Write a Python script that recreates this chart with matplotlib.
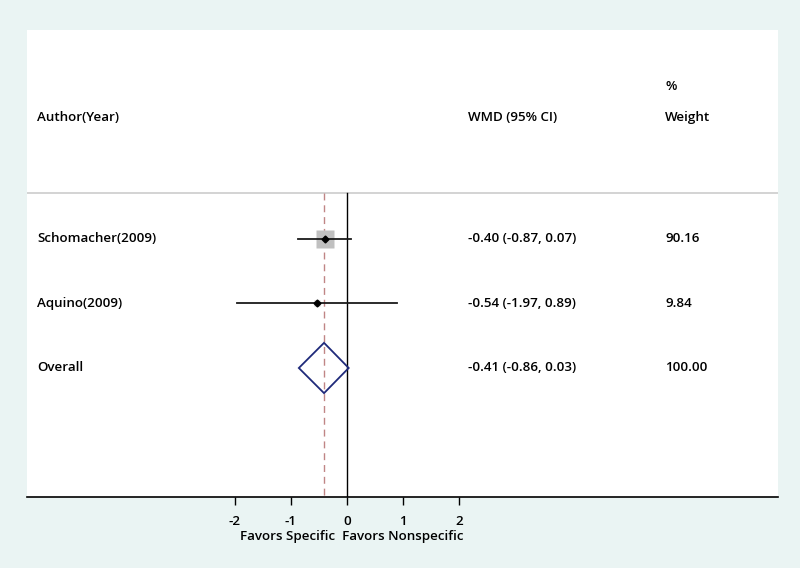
import matplotlib
matplotlib.use("Agg")
import matplotlib.pyplot as plt
import numpy as np

studies = ["Schomacher(2009)", "Aquino(2009)"]
est = [-0.40, -0.54]
lo = [-0.87, -1.97]
hi = [0.07, 0.89]
weights = [90.16, 9.84]
ci_text = ["-0.40 (-0.87, 0.07)", "-0.54 (-1.97, 0.89)"]
weight_text = ["90.16", "9.84"]
overall_est = -0.41
overall_lo = -0.86
overall_hi = 0.03
overall_ci_text = "-0.41 (-0.86, 0.03)"
overall_weight_text = "100.00"
xticks = [-2, -1, 0, 1, 2]

plt.rcParams['font.family'] = ['Open Sans', 'DejaVu Sans']
plt.rcParams['font.weight'] = 'semibold'

fig = plt.figure(figsize=(8, 5.68), dpi=100)
fig.patch.set_facecolor('#eaf4f3')
W, H = 800, 568
ax = fig.add_axes([27 / W, (H - 497) / H, (778 - 27) / W, (497 - 30) / H])
ax.set_facecolor('white')
ax.set_xlim(-5.714, 7.696)
ax.set_ylim(4.0, -3.24)
for s in ['top', 'left', 'right']:
    ax.spines[s].set_visible(False)
ax.spines['bottom'].set_linewidth(1.2)
ax.set_yticks([])
ax.set_xticks(xticks)
fs = 9.6
ax.set_xticklabels([str(t) for t in xticks], fontsize=fs, fontweight='semibold')
ax.tick_params(axis='x', length=6, width=1, direction='out', pad=7)

sep_y = -0.713
ax.axhline(sep_y, color='#cccccc', lw=1.2)
ax.plot([0, 0], [sep_y, 4.0], color='black', lw=1.0)
ax.plot([overall_est, overall_est], [sep_y, 4.0], color='#c08585', lw=1.0,
        ls=(0, (5, 3.5)))

rows = np.arange(len(studies))
for i, r in enumerate(rows):
    ax.plot(est[i], r, marker='s', ms=1.42 * np.sqrt(weights[i]),
            color='#c0c0c0', mec='none', zorder=2)
    ax.plot([lo[i], hi[i]], [r, r], color='#1a1a1a', lw=1.3, zorder=3)
    ax.plot(est[i], r, marker='D', ms=3.5, color='black', zorder=4)
    ax.text(-5.535, r, studies[i], fontsize=fs, va='center', ha='left')
    ax.text(2.16, r, ci_text[i], fontsize=fs, va='center', ha='left')
    ax.text(5.68, r, weight_text[i], fontsize=fs, va='center', ha='left')

ro = len(studies)
dh = 0.39
ax.fill([overall_lo, overall_est, overall_hi, overall_est, overall_lo],
        [ro, ro - dh, ro, ro + dh, ro], facecolor='none',
        edgecolor='#1f2a7a', lw=1.3, zorder=3)
ax.text(-5.535, ro, "Overall", fontsize=fs, va='center', ha='left')
ax.text(2.16, ro, overall_ci_text, fontsize=fs, va='center', ha='left')
ax.text(5.68, ro, overall_weight_text, fontsize=fs, va='center', ha='left')

ax.text(-5.535, -1.89, "Author(Year)", fontsize=fs, va='center', ha='left')
ax.text(2.16, -1.89, "WMD (95% CI)", fontsize=fs, va='center', ha='left')
ax.text(5.68, -1.89, "Weight", fontsize=fs, va='center', ha='left')
ax.text(5.68, -2.36, "%", fontsize=fs, va='center', ha='left')

ax.set_xlabel("Favors Specific  Favors Nonspecific", fontsize=fs,
              fontweight='semibold')
ax.xaxis.set_label_coords((352 - 27) / (778 - 27), -0.071)

fig.savefig("out.png", dpi=100, facecolor=fig.get_facecolor())
